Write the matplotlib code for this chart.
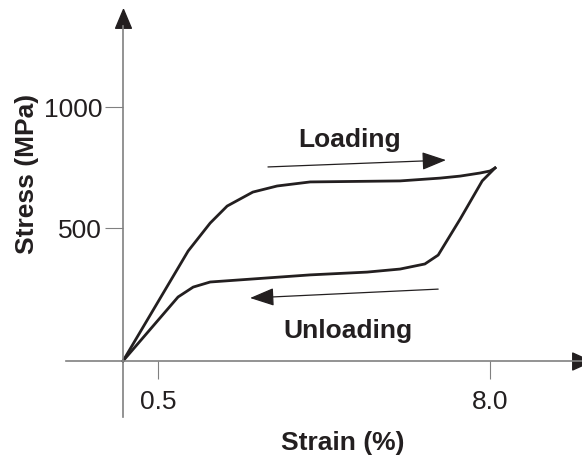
import matplotlib.pyplot as plt

plt.rcParams['font.family'] = ['Liberation Sans', 'DejaVu Sans']

# stress-strain loop (strain in %, stress in MPa)
load_strain = [0.0, 1.42, 1.90, 2.27, 2.83, 3.36, 4.08, 6.04, 6.91, 7.35, 7.78, 8.0, 8.11]
load_stress = [0, 433, 543, 610, 665, 689, 705, 709, 720, 728, 740, 748, 760]

unload_strain = [8.11, 7.83, 7.35, 6.87, 6.58, 6.04, 5.32, 4.08, 1.90, 1.53, 1.20, 0.0]
unload_stress = [760, 709, 559, 417, 382, 362, 350, 339, 311, 291, 252, 0]

ytick_pos = [524, 1000]
ytick_labels = ['500', '1000']
xtick_pos = [0.76, 8.0]
xtick_labels = ['0.5', '8.0']

fig = plt.figure(figsize=(5.82, 4.56), dpi=100)
ax = fig.add_axes([0, 0, 1, 1])
ax.set_xlim(-2.681, 10.005)
ax.set_ylim(-370.1, 1425.2)
ax.patch.set_visible(False)

gray = '#808080'
ink = '#231f20'
for s in ['top', 'right']:
    ax.spines[s].set_visible(False)
ax.spines['left'].set_position(('data', 0))
ax.spines['bottom'].set_position(('data', 0))
ax.spines['left'].set_bounds(-220, 1320)
ax.spines['bottom'].set_bounds(-1.24, 10.0)
for s in ['left', 'bottom']:
    ax.spines[s].set_color(gray)
    ax.spines[s].set_linewidth(1.2)

ax.set_xticks(xtick_pos, xtick_labels)
ax.set_yticks(ytick_pos, ytick_labels)
ax.tick_params(axis='both', direction='out', length=13, width=0.8, color=gray,
               labelsize=19, labelcolor=ink)
ax.tick_params(axis='x', pad=7)
ax.tick_params(axis='y', pad=2)

# arrow heads at the ends of the axes
head_up = [(0, 0), (-0.42, -1), (0.42, -1), (0, 0)]
head_right = [(0, 0), (-1, 0.45), (-1, -0.45), (0, 0)]
ax.plot([0], [1386], marker=head_up, ms=27, color=ink, clip_on=False)
ax.plot([10.2], [0], marker=head_right, ms=27, color=ink)

ax.plot(load_strain, load_stress, color=ink, lw=2.0)
ax.plot(unload_strain, unload_stress, color=ink, lw=2.0)

arrow_kw = dict(arrowstyle='-|>,head_length=0.75,head_width=0.28', color=ink,
                lw=0.9, shrinkA=0, shrinkB=0, mutation_scale=20)
ax.annotate('', xy=(7.04, 791), xytext=(3.16, 764), arrowprops=arrow_kw)
ax.annotate('', xy=(2.77, 248), xytext=(6.87, 283), arrowprops=arrow_kw)

ax.text(4.93, 846, 'Loading', fontsize=19, fontweight='bold', ha='center', va='baseline', color=ink)
ax.text(4.90, 94, 'Unloading', fontsize=19, fontweight='bold', ha='center', va='baseline', color=ink)
ax.text(4.80, -346, 'Strain (%)', fontsize=19, fontweight='bold', ha='center', va='baseline', color=ink)
ax.text(-2.10, 740, 'Stress (MPa)', fontsize=19, fontweight='bold', ha='center', va='center',
        rotation=90, color=ink)

plt.savefig('out.png', dpi=100)
